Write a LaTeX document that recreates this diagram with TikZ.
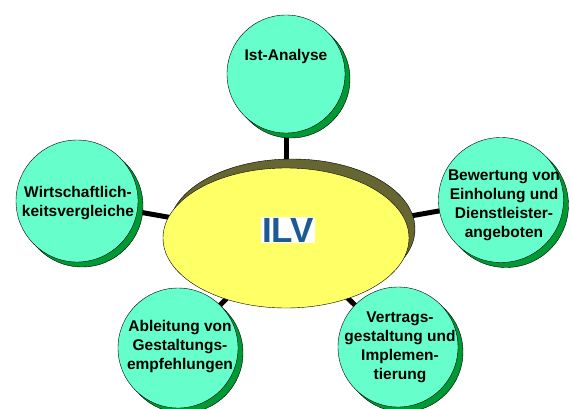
\documentclass[tikz,border=0pt]{standalone}
\usepackage{fontspec}
\setmainfont{Liberation Sans}
\usetikzlibrary{shapes.geometric,shadows,backgrounds}

\definecolor{bubblegreen}{RGB}{102,255,204}
\definecolor{shadegreen}{RGB}{0,153,51}
\definecolor{ilvyellow}{RGB}{255,255,102}
\definecolor{ilvolive}{RGB}{102,102,51}
\definecolor{ilvblue}{RGB}{28,90,150}

\tikzset{
    bubble/.style={circle, draw=black, thin, fill=bubblegreen, inner sep=0pt, minimum size=#1,
        general shadow={fill=shadegreen, draw=black, thin, shadow xshift=5pt, shadow yshift=-5pt}},
    bubble/.default=120pt,
    bubbletext/.style={font=\fontsize{15.5}{19}\selectfont\bfseries, align=center, inner sep=0pt},
    link/.style={line width=5pt, black},
}

\begin{document}
\begin{tikzpicture}[x=1pt,y=-1pt]
                \useasboundingbox (0,0) rectangle (571,408);

                % Center ellipse
                \node[ellipse, draw=black, thin, fill=ilvyellow, minimum width=246pt, minimum height=140pt,
                    general shadow={fill=ilvolive, draw=black, thin, shadow xshift=6pt, shadow yshift=9pt}]
                    (ilv) at (286,238) {};
                \node[fill=white, inner sep=1pt, text=ilvblue, font=\fontsize{35}{35}\selectfont\bfseries]
                    (ilvText) at (288,230) {ILV};

                % Bubbles
                \node[bubble=118pt] (ist) at (286,74) {};
                \node[bubble=122pt] (wirt) at (77,201) {};
                \node[bubble=125pt] (bew) at (501,200) {};
                \node[bubble=120pt] (abl) at (178,348) {};
                \node[bubble=120pt] (vert) at (398,347) {};

                % Bubble texts
                \node[bubbletext] (istText) at (286,56) {Ist-Analyse};
                \node[bubbletext] (wirtText) at (78,203) {Wirtschaftlich-\\keitsvergleiche};
                \node[bubbletext] (bewText) at (504,205) {Bewertung von\\Einholung und\\Dienstleister-\\angeboten};
                \node[bubbletext] (ablText) at (180,347) {Ableitung von\\Gestaltungs-\\empfehlungen};
                \node[bubbletext] (vertText) at (400,347) {Vertrags-\\gestaltung und\\Implemen-\\tierung};

                % Links
                \begin{scope}[on background layer]
                \draw[link] (ilv.center) -- (ist.center);
                \draw[link] (ilv.center) -- (wirt.center);
                \draw[link] (ilv.center) -- (bew.center);
                \draw[link] (ilv.center) -- (abl.center);
                \draw[link] (ilv.center) -- (vert.center);
                \end{scope}
            \end{tikzpicture}
\end{document}
